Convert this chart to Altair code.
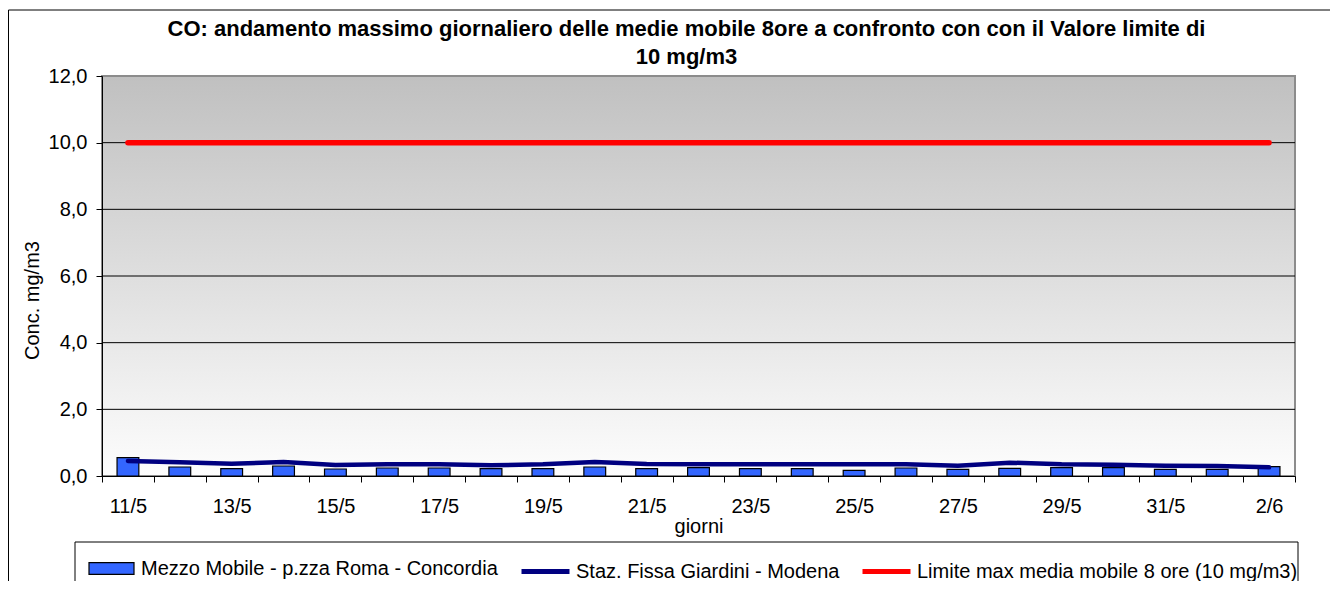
import altair as alt
import pandas as pd

# ---------------- data ----------------
days = ["11/5", "12/5", "13/5", "14/5", "15/5", "16/5", "17/5", "18/5", "19/5", "20/5",
        "21/5", "22/5", "23/5", "24/5", "25/5", "26/5", "27/5", "28/5", "29/5", "30/5",
        "31/5", "1/6", "2/6"]
mezzo_mobile = [0.55, 0.27, 0.22, 0.30, 0.21, 0.24, 0.24, 0.22, 0.22, 0.27,
                0.22, 0.25, 0.22, 0.22, 0.17, 0.24, 0.20, 0.23, 0.25, 0.25,
                0.20, 0.20, 0.28]
staz_fissa = [0.45, 0.41, 0.37, 0.42, 0.33, 0.35, 0.35, 0.32, 0.35, 0.42,
              0.36, 0.35, 0.35, 0.35, 0.35, 0.35, 0.31, 0.40, 0.35, 0.34,
              0.31, 0.30, 0.26]
limite = [10.0, 10.0, 10.0, 10.0, 10.0, 10.0, 10.0, 10.0, 10.0, 10.0,
          10.0, 10.0, 10.0, 10.0, 10.0, 10.0, 10.0, 10.0, 10.0, 10.0,
          10.0, 10.0, 10.0]
y_ticks = [0, 2, 4, 6, 8, 10, 12]
grid_lines = [2, 4, 6, 8, 10]
shown_days = days[::2]

S_BAR = "Mezzo Mobile - p.zza Roma - Concordia"
S_LINE = "Staz. Fissa Giardini - Modena"
S_LIM = "Limite max media mobile 8 ore (10 mg/m3)"
TITLE = ["CO: andamento massimo giornaliero delle medie mobile 8ore a confronto con con il Valore limite di",
         "10 mg/m3"]

# ---------------- layout / style ----------------
W, H = 1193, 400
FONT = "Liberation Sans"
FS = 20

df_bar = pd.DataFrame({"giorno": days, "valore": mezzo_mobile, "serie": S_BAR})
df_line = pd.DataFrame({"giorno": days, "valore": staz_fissa, "serie": S_LINE})
df_lim = pd.DataFrame({"giorno": days, "valore": limite, "serie": S_LIM})
df_grid = pd.DataFrame({"valore": grid_lines})

label_list = "[" + ",".join("'%s'" % d for d in shown_days) + "]"

x_enc = alt.X(
    "giorno:N", sort=days,
    scale=alt.Scale(paddingInner=0, paddingOuter=0),
    axis=alt.Axis(
        title="giorni", tickBand="extent", labelAngle=0,
        labelExpr="indexof(%s, datum.value) >= 0 ? datum.value : ''" % label_list,
        labelOverlap=False, labelFont=FONT, labelFontSize=FS, labelColor="black",
        labelPadding=14, labelBaseline="top",
        tickSize=6, tickColor="black", domainColor="black",
        titleFont=FONT, titleFontSize=FS, titleFontWeight="normal", titleColor="black",
        titleY=56, titleBaseline="alphabetic", grid=False, zindex=1,
    ),
)
y_enc = alt.Y(
    "valore:Q",
    scale=alt.Scale(domain=[0, 12], nice=False, zero=True),
    axis=alt.Axis(
        values=y_ticks, title="Conc. mg/m3",
        labelExpr="replace(format(datum.value, '.1f'), '.', ',')",
        labelFont=FONT, labelFontSize=FS, labelColor="black", labelPadding=9,
        labelBaseline="middle",
        tickSize=6, tickColor="black", domainColor="black",
        titleFont=FONT, titleFontSize=FS, titleFontWeight="normal", titleColor="black",
        titleAngle=270, titleX=-70, titleY=224, titleAlign="center", titleBaseline="middle",
        grid=False, zindex=1,
    ),
)

one = alt.Data(values=[{"k": 0}])

background = alt.Chart(one).mark_rect(
    fill=alt.Gradient(
        gradient="linear",
        stops=[alt.GradientStop(color="#c0c0c0", offset=0),
               alt.GradientStop(color="#fdfdfd", offset=1)],
        x1=0, x2=0, y1=0, y2=1,
    ),
    stroke="#8c8c8c", strokeWidth=2,
).encode(x=alt.value(0), x2=alt.value(W), y=alt.value(0), y2=alt.value(H))

grid = alt.Chart(df_grid).mark_rule(color="black", strokeWidth=1).encode(y=y_enc)

bars = alt.Chart(df_bar).mark_bar(
    width=alt.RelativeBandSize(0.42), stroke="black", strokeWidth=1.2
).encode(
    x=x_enc, y=y_enc,
    color=alt.Color(
        "serie:N",
        scale=alt.Scale(domain=[S_BAR], range=["#3366ff"]),
        legend=alt.Legend(
            orient="none", legendX=-14, legendY=469, title=None, padding=0,
            symbolType="M-1,-0.26H1V0.26H-1Z", symbolSize=2025,
            symbolStrokeColor="black", symbolStrokeWidth=1.2, symbolOpacity=1,
            labelFont=FONT, labelFontSize=FS, labelColor="black", labelOffset=6,
            labelLimit=600,
        ),
    ),
)

line = alt.Chart(df_line).mark_line(strokeWidth=4.5, strokeCap="round", strokeJoin="round").encode(
    x=x_enc, y=y_enc,
    color=alt.Color(
        "serie:N",
        scale=alt.Scale(domain=[S_LINE], range=["#000080"]),
        legend=alt.Legend(
            orient="none", legendX=417, legendY=469, title=None, padding=0,
            symbolType="stroke", symbolSize=2304, symbolStrokeWidth=5,
            labelFont=FONT, labelFontSize=FS, labelColor="black", labelOffset=4,
            labelLimit=600,
        ),
    ),
)

lim = alt.Chart(df_lim).mark_line(strokeWidth=5.5, strokeCap="round").encode(
    x=x_enc, y=y_enc,
    color=alt.Color(
        "serie:N",
        scale=alt.Scale(domain=[S_LIM], range=["#ff0000"]),
        legend=alt.Legend(
            orient="none", legendX=758, legendY=469, title=None, padding=0,
            symbolType="stroke", symbolSize=2304, symbolStrokeWidth=5,
            labelFont=FONT, labelFontSize=FS, labelColor="black", labelOffset=4,
            labelLimit=600,
        ),
    ),
)

legend_box = alt.Chart(one).mark_rect(
    filled=False, stroke="black", strokeWidth=1
).encode(x=alt.value(-27), x2=alt.value(1196), y=alt.value(466), y2=alt.value(530))

outer_frame = alt.Chart(one).mark_rect(
    filled=False, stroke="black", strokeWidth=1
).encode(x=alt.value(-93.5), x2=alt.value(1300), y=alt.value(-66), y2=alt.value(530))

chart = alt.layer(
    background, grid, bars, line, lim, legend_box, outer_frame
).resolve_scale(
    color="independent"
).properties(
    width=W, height=H,
    autosize=alt.AutoSizeParams(type="none"),
    padding={"left": 94, "top": 68, "right": 35, "bottom": 105},
    title=alt.TitleParams(
        text=TITLE, font=FONT, fontSize=22, fontWeight="bold", color="black",
        anchor="middle", frame="group", offset=0, dy=76, dx=-12, lineHeight=28,
        baseline="alphabetic",
    ),
).configure_view(stroke=None)

chart.save("out.html", embed_options={"renderer": "svg", "actions": False})
